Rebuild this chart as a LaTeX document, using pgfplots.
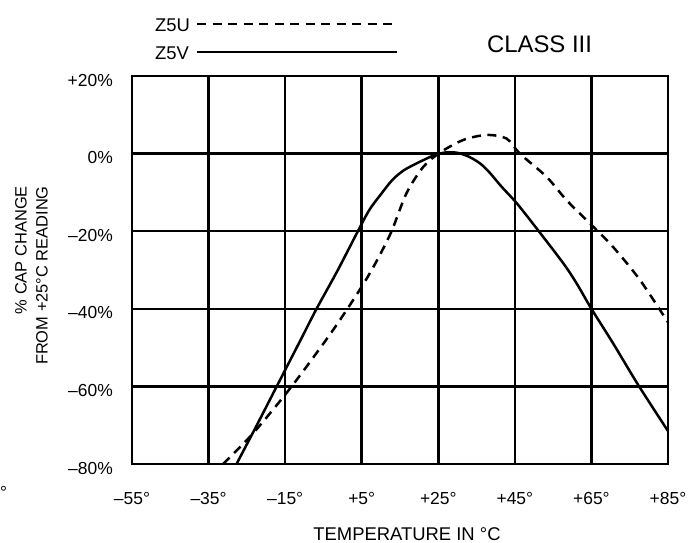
\documentclass[border=0pt]{standalone}
\usepackage{fontspec}
\setmainfont{Liberation Sans}
\usepackage{pgfplots}
\pgfplotsset{compat=1.18}
\newcommand{\lf}{\fontsize{17.5}{21}\selectfont}
\newcommand{\blf}{\fontsize{18.5}{22}\selectfont}
\begin{document}
\begin{tikzpicture}
\useasboundingbox (-132bp,-79bp) rectangle (565bp,464bp);
\begin{axis}[
  scale only axis,
  width=536bp, height=388bp,
  xmin=-55, xmax=85, ymin=-80, ymax=20,
  xtick={-55,-35,-15,5,25,45,65,85},
  xticklabels={--55°,--35°,--15°,+5°,+25°,+45°,+65°,+85°},
  ytick={-80,-60,-40,-20,0,20},
  yticklabels={--80\%,--60\%,--40\%,--20\%,0\%,+20\%},
  major tick length=0pt,
  grid=major,
  major grid style={black, line width=2.5bp},
  axis line style={black, line width=2.5bp},
  xticklabel style={font=\lf, anchor=base, yshift=-40bp},
  yticklabel style={font=\lf, anchor=east, inner sep=0pt, xshift=-19bp, yshift=-4bp},
  xlabel={TEMPERATURE IN °C},
  xlabel style={font=\blf, at={(axis description cs:0.513,0)}, anchor=base, yshift=-76bp},
  ylabel={\% CAP CHANGE\\FROM +25°C READING},
  ylabel style={font=\fontsize{16.5}{21}\selectfont, align=right, inner sep=0pt,
    at={(axis description cs:-0.1875,0.7165)}, anchor=east},
  every axis plot/.append style={black, line width=2.5bp},
  legend plot pos=right,
  legend cell align=left,
  legend image code/.code={\path[draw=none,fill=none] (0bp,-5bp) rectangle (207bp,8bp); \draw[#1] (7bp,2bp) -- (207bp,2bp);},
  legend style={font=\blf, draw=none, fill=none, inner sep=0pt,
    nodes={inner sep=0pt},
    at={(axis description cs:0.0429,1.1494)}, anchor=north west,
    row sep=12.8bp},
]
\addplot[dash pattern=on 9bp off 6.5bp, smooth] coordinates {
(-31.2,-80) (-23.3,-72) (-13.3,-60) (-2.5,-45.5) (5,-34.3) (9,-27.5)
(12.8,-20) (16.7,-10.2) (21.1,-3.4) (25.5,0.3) (31.5,3.5) (37.6,4.8)
(42.8,3.9) (46.3,0) (53.3,-6) (58.5,-12) (64.6,-18) (70.6,-24)
(77.7,-32.6) (85,-43.5)
};
\addlegendentry{Z5U}
\addplot[smooth] coordinates {
(-27.7,-80) (-22.4,-70) (-17.2,-60) (-11.1,-48.3) (-6.8,-40) (-1.5,-30.5)
(4,-20) (7,-14.5) (10,-10.5) (13,-6.8) (16,-4.3) (20,-2.2) (24,-0.4)
(27,0.3) (30,0.2) (33,-0.8) (36,-2.6) (38.5,-5) (41.5,-8.5) (45.5,-12.8)
(50.7,-19.3) (57.6,-28.2) (61.1,-33.4) (65,-40) (70.6,-48.8) (77.2,-59.6)
(85,-71.5)
};
\addlegendentry{Z5V}
\end{axis}
\node[font=\fontsize{24}{28}\selectfont, anchor=base] at (407.5bp,411bp) {CLASS III};
\node[font=\lf, anchor=base west, inner sep=0pt] at (-132bp,-34.5bp) {°};
\end{tikzpicture}
\end{document}
